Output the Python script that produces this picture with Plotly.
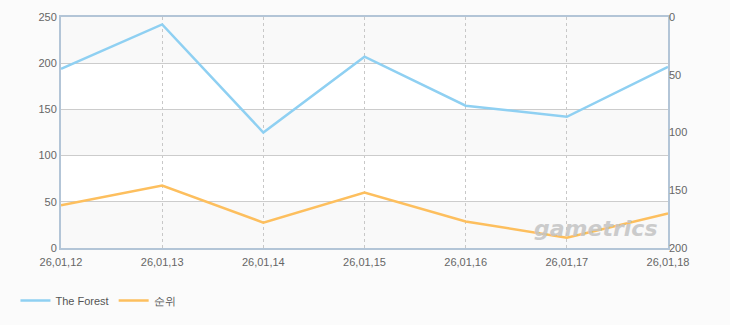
import plotly.graph_objects as go

dates = ["26,01,12", "26,01,13", "26,01,14", "26,01,15", "26,01,16", "26,01,17", "26,01,18"]
forest_values = [194, 242, 125, 207, 154, 142, 196]
rank_values = [163, 146, 178, 152, 177, 191, 170]

left_ticks = [0, 50, 100, 150, 200, 250]
right_ticks = [0, 50, 100, 150, 200]

FONT = "Liberation Sans, Arial, sans-serif"
blue = "#8fd0f2"
orange = "#fdbf5e"
frame = "#b3c5d7"

fig = go.Figure()
fig.add_trace(go.Scatter(x=dates, y=forest_values, name="The Forest", mode="lines",
                         line=dict(color=blue, width=2.5), yaxis="y"))
fig.add_trace(go.Scatter(x=dates, y=rank_values, name="순위", mode="lines",
                         line=dict(color=orange, width=2.5), yaxis="y2"))

# alternating background bands
for lo in [0, 100, 200]:
    fig.add_shape(type="rect", xref="paper", yref="y", x0=0, x1=1, y0=lo, y1=lo + 50,
                  fillcolor="#f9f9f9", line_width=0, layer="below")

fig.add_annotation(text="<b><i>gametrics</i></b>", xref="paper", yref="paper",
                   x=0.985, y=0.02, xanchor="right", yanchor="bottom", showarrow=False,
                   font=dict(family="DejaVu Sans, sans-serif", size=22, color="#c4c4c4"),
                   opacity=0.85)

fig.update_layout(
    width=730, height=325,
    margin=dict(l=61, r=62, t=17, b=77, autoexpand=False),
    paper_bgcolor="#fbfbfb",
    plot_bgcolor="#ffffff",
    font=dict(family=FONT, size=11, color="#666666"),
    showlegend=True,
    legend=dict(orientation="h", x=-0.075, y=-0.165, xanchor="left", yanchor="top",
                font=dict(family=FONT, size=11, color="#555555"),
                bgcolor="rgba(0,0,0,0)", itemwidth=30),
    xaxis=dict(type="category", range=[0, 6], showgrid=True, gridcolor="#c8c8c8",
               griddash="3px,3px", gridwidth=1, showline=True, linecolor=frame, linewidth=2,
               mirror=True, ticks="outside", ticklen=3, tickcolor="rgba(0,0,0,0)",
               tickfont=dict(size=11, color="#666666"), zeroline=False),
    yaxis=dict(range=[0, 250], tickvals=left_ticks, showgrid=True, gridcolor="#cccccc",
               gridwidth=1, showline=True, linecolor=frame, linewidth=2, mirror=True,
               ticks="", zeroline=False, tickfont=dict(size=11, color="#666666")),
    yaxis2=dict(range=[200, 0], tickvals=right_ticks, overlaying="y", side="right",
                showgrid=False, zeroline=False, showline=False, ticks="",
                tickfont=dict(size=11, color="#666666")),
)

fig.write_html("out.html")
